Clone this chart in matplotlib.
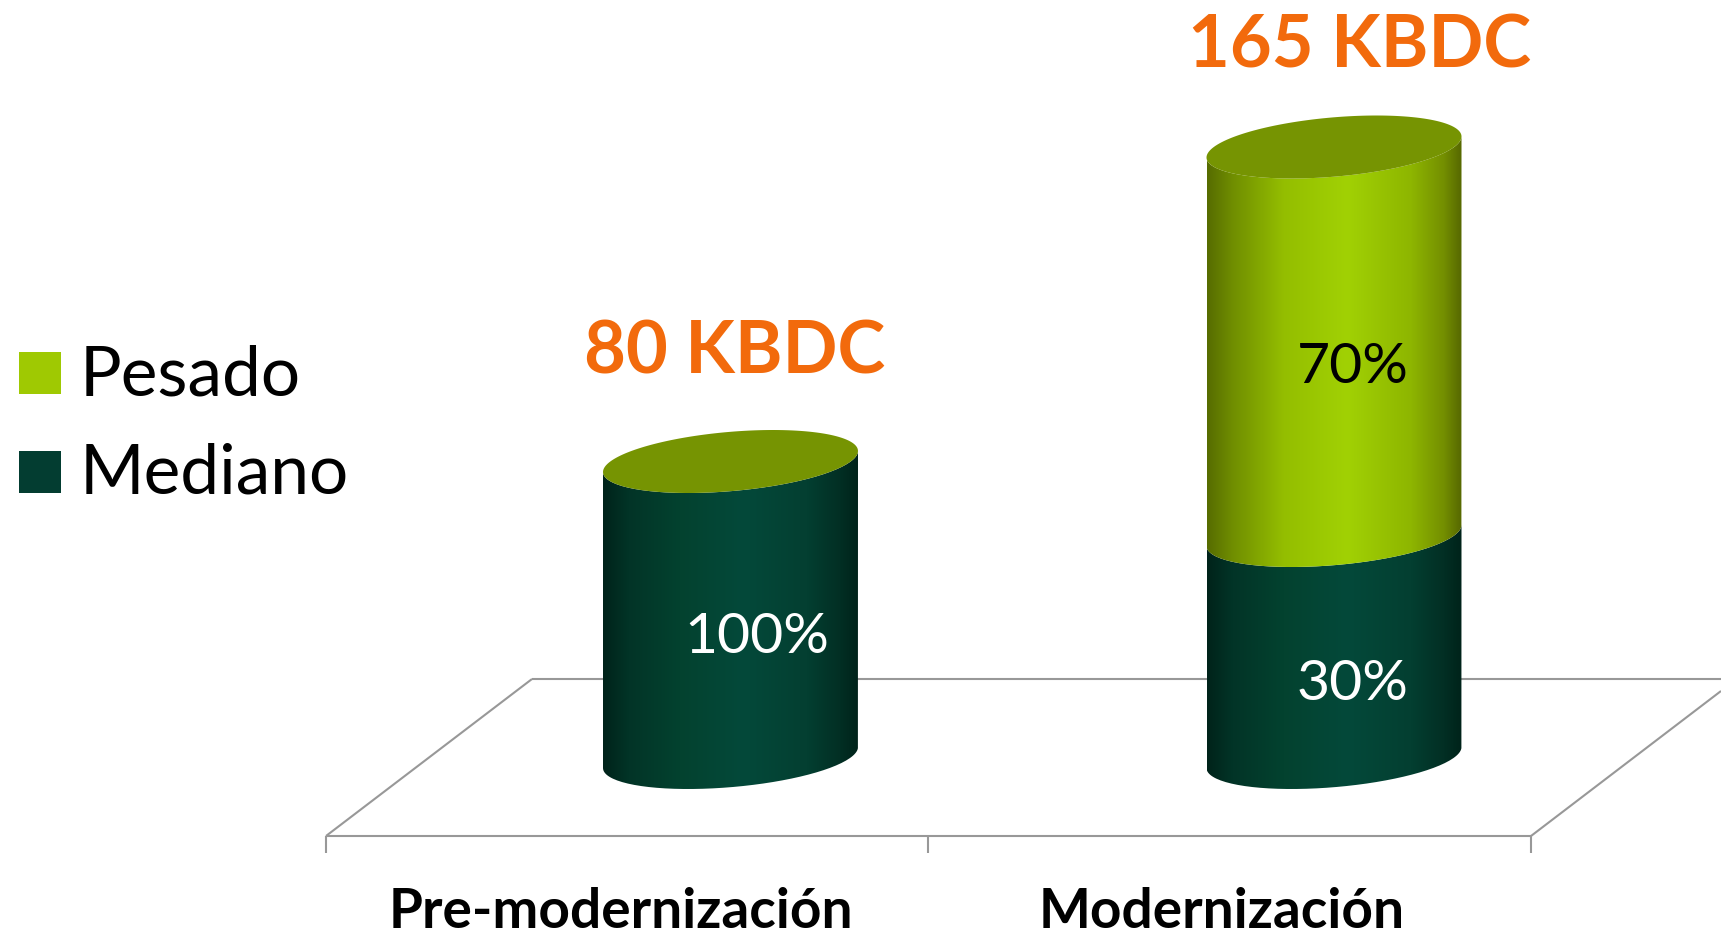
import numpy as np
import matplotlib
matplotlib.use('Agg')
import matplotlib.pyplot as plt
from matplotlib.colors import LinearSegmentedColormap
from matplotlib.patches import PathPatch, Polygon, Rectangle
from matplotlib.path import Path
from matplotlib.transforms import Affine2D

# Datos
categories = ['Pre-modernización', 'Modernización']
totals = ['80 KBDC', '165 KBDC']
mediano = [80, 60]
pesado = [0, 105]
mediano_pct = ['100%', '30%']
pesado_pct = ['', '70%']
legend_labels = ['Pesado', 'Mediano']

W, H = 1721, 934
plt.rcParams['font.family'] = ['Lato', 'DejaVu Sans']

fig = plt.figure(figsize=(W / 100, H / 100), dpi=100)
ax = fig.add_axes([0, 0, 1, 1])

# escala: categorias en x, KBDC en y (una categoria = 603.5 px, 1 KBDC = 3.7 px)
x_scale = 603.5
y_scale = 3.7
x0 = 730.5
y0 = 757.5
xlim = (-x0 / x_scale, (W - x0) / x_scale)
ylim = ((y0 - H) / y_scale, y0 / y_scale)

# capa en pixeles para suelo, leyenda y textos
px = Affine2D().scale(1, -1).translate(0, H)

bar_w = 255 / x_scale
tilt = 10.5 / y_scale    # los extremos de la elipse no estan a la misma altura
minor = 29.7 / y_scale

dark_cmap = LinearSegmentedColormap.from_list('dark', [
    (0, '#00231A'), (0.1, '#023427'), (0.3, '#03422F'), (0.55, '#04493A'),
    (0.8, '#033F31'), (0.93, '#022F24'), (1, '#00231A')])
lime_cmap = LinearSegmentedColormap.from_list('lime', [
    (0, '#566C00'), (0.1, '#708E00'), (0.3, '#94BE00'), (0.55, '#A1D104'),
    (0.8, '#8EB600'), (0.93, '#748F00'), (1, '#566800')])
grad = np.linspace(0, 1, 256).reshape(1, -1)


def arc(xc, yc, t):
    return np.column_stack([xc + bar_w / 2 * np.cos(t),
                            yc + tilt * np.cos(t) + minor * np.sin(t)])


def draw_segment(xc, bottom, top, cmap):
    t = np.linspace(0, -np.pi, 80)
    verts = np.vstack([arc(xc, top, t[::-1]), arc(xc, bottom, t)])
    verts = np.vstack([verts, verts[0]])
    clip = PathPatch(Path(verts), transform=ax.transData, fc='none', ec='none')
    ax.add_patch(clip)
    ymin = bottom - 2 * (tilt + minor)
    ymax = top + 2 * (tilt + minor)
    im = ax.imshow(grad, cmap=cmap, aspect='auto', zorder=3, interpolation='bilinear',
                   extent=(xc - bar_w / 2, xc + bar_w / 2, ymin, ymax))
    im.set_clip_path(clip)


# suelo del grafico
floor_color = '#989898'
floor = [
    [(326, 836), (1531, 836)],
    [(326, 836), (532, 679)],
    [(532, 679), (1721, 679)],
    [(1531, 836), (1721, 691)],
    [(326, 836), (326, 853)],
    [(928, 836), (928, 853)],
    [(1531, 836), (1531, 853)],
]
for seg in floor:
    xs, ys = zip(*seg)
    ax.plot(xs, ys, color=floor_color, lw=1.5, transform=px, zorder=1,
            clip_on=False, solid_capstyle='butt')

# cilindros
for i in range(len(categories)):
    draw_segment(i, 0, mediano[i], dark_cmap)
    top = mediano[i]
    if pesado[i] > 0:
        draw_segment(i, mediano[i], mediano[i] + pesado[i], lime_cmap)
        top = mediano[i] + pesado[i]
    t = np.linspace(0, 2 * np.pi, 160)
    ax.add_patch(Polygon(arc(i, top, t), closed=True, fc='#769402', ec='none', zorder=4))

ax.set_xlim(xlim)
ax.set_ylim(ylim)
ax.axis('off')

# etiquetas de porcentaje
pct_pos = [(684, 653), (1297, 700)]
for label, (x, y) in zip(mediano_pct, pct_pos):
    ax.text(x, y, label, transform=px, color='white', fontsize=41, ha='left',
            va='baseline', zorder=6)
ax.text(1297, 383, pesado_pct[1], transform=px, color='black', fontsize=41, ha='left',
        va='baseline', zorder=6)

# totales
total_pos = [(584, 374), (1188, 68)]
for label, (x, y) in zip(totals, total_pos):
    ax.text(x, y, label, transform=px, color='#F26A0C', fontsize=52, fontweight='bold',
            ha='left', va='baseline', zorder=6)

# categorias
cat_pos = [(389, 928), (1039, 928)]
for label, (x, y) in zip(categories, cat_pos):
    ax.text(x, y, label, transform=px, color='black', fontsize=39.6, fontweight='bold',
            ha='left', va='baseline', zorder=6)

# leyenda
swatches = ['#9FC902', '#033D31']
legend_y = [(352, 395), (451, 493)]
for label, c, (sy, base) in zip(legend_labels, swatches, legend_y):
    ax.add_patch(Rectangle((19, sy), 42, 42, fc=c, ec='none', transform=px, zorder=6))
    ax.text(80, base, label, transform=px, color='black', fontsize=50, ha='left',
            va='baseline', zorder=6)

fig.savefig('out.png', dpi=100, facecolor='white')
